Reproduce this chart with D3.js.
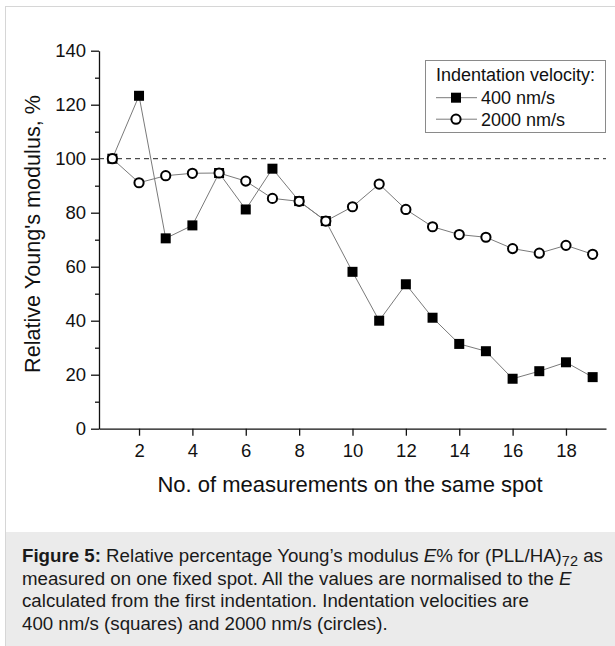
<!DOCTYPE html>
<html>
<head>
<meta charset="utf-8">
<script src="https://cdn.jsdelivr.net/npm/d3@7"></script>
<style>
  html, body { margin: 0; padding: 0; background: #fff; }
  svg { display: block; font-family: "Liberation Sans", Arial, Helvetica, sans-serif; }
</style>
</head>
<body>
<svg id="chart" width="615" height="646"></svg>
<script>
// Measurement index on the same spot
const measurements = [1, 2, 3, 4, 5, 6, 7, 8, 9, 10, 11, 12, 13, 14, 15, 16, 17, 18, 19];
// Relative Young's modulus (%) at 400 nm/s (squares)
const slowValues = [100, 123.3, 70.5, 75.3, 94.7, 81.2, 96.3, 84.3, 76.9, 58.1, 40, 53.5, 41.1, 31.4, 28.7, 18.5, 21.3, 24.6, 19.1];
// Relative Young's modulus (%) at 2000 nm/s (circles)
const fastValues = [100, 91.1, 93.7, 94.6, 94.7, 91.7, 85.3, 84.2, 76.9, 82.2, 90.6, 81.2, 74.8, 71.9, 70.9, 66.7, 65, 67.9, 64.6];
const xTicks = [2, 4, 6, 8, 10, 12, 14, 16, 18];
const yTicks = [0, 20, 40, 60, 80, 100, 120, 140];
const yMinorTicks = [10, 30, 50, 70, 90, 110, 130];
const referenceLevel = 100;
const legendTitle = "Indentation velocity:";
const seriesNames = ["400 nm/s", "2000 nm/s"];

const svg = d3.select("#chart");

// page frame and caption panel
svg.append("rect").attr("x", 6).attr("y", 532).attr("width", 609).attr("height", 114).attr("fill", "#ebebeb");
svg.append("line").attr("x1", 5.5).attr("x2", 5.5).attr("y1", 6).attr("y2", 646).attr("stroke", "#d6d6d6");
svg.append("line").attr("x1", 5).attr("x2", 615).attr("y1", 6.5).attr("y2", 6.5).attr("stroke", "#d6d6d6");

const x = d3.scaleLinear().domain([0.5, 19.5]).range([99, 606]);
const y = d3.scaleLinear().domain([0, 140]).range([428.7, 50.7]);

// axes
svg.append("g").attr("transform", "translate(99,0)")
  .call(d3.axisLeft(y).tickValues(yTicks).tickSize(8).tickSizeOuter(0).tickPadding(5));
svg.append("g").attr("transform", "translate(99,0)")
  .call(d3.axisLeft(y).tickValues(yMinorTicks).tickSize(4).tickSizeOuter(0).tickFormat(""))
  .select(".domain").remove();
svg.append("g").attr("transform", "translate(0,428.7)")
  .call(d3.axisBottom(x).tickValues(xTicks).tickSize(7).tickSizeOuter(0).tickPadding(8));

svg.selectAll(".tick text").attr("font-size", 18.5).attr("fill", "#111")
  .attr("font-family", "'Liberation Sans', Arial, sans-serif");
svg.selectAll(".domain, .tick line").attr("stroke", "#111").attr("stroke-width", 1.3);

// axis titles
svg.append("text").attr("x", 350).attr("y", 492).attr("text-anchor", "middle")
  .attr("font-size", 22).attr("fill", "#111").text("No. of measurements on the same spot");
svg.append("text").attr("transform", "translate(40,234) rotate(-90)").attr("text-anchor", "middle")
  .attr("font-size", 21.6).attr("fill", "#111").text("Relative Young's modulus, %");

// reference level
svg.append("line").attr("x1", x(0.5)).attr("x2", x(19.5)).attr("y1", y(referenceLevel)).attr("y2", y(referenceLevel))
  .attr("stroke", "#222").attr("stroke-width", 1).attr("stroke-dasharray", "5,4");

const line = d3.line().x(d => x(d[0])).y(d => y(d[1]));
const slow = measurements.map((m, i) => [m, slowValues[i]]);
const fast = measurements.map((m, i) => [m, fastValues[i]]);

svg.append("path").datum(slow).attr("d", line).attr("fill", "none").attr("stroke", "#7a7a7a").attr("stroke-width", 1);
svg.append("path").datum(fast).attr("d", line).attr("fill", "none").attr("stroke", "#7a7a7a").attr("stroke-width", 1);

const sq = 10;
svg.append("g").selectAll("rect").data(slow).join("rect")
  .attr("x", d => x(d[0]) - sq / 2).attr("y", d => y(d[1]) - sq / 2)
  .attr("width", sq).attr("height", sq).attr("fill", "#000");
svg.append("g").selectAll("circle").data(fast).join("circle")
  .attr("cx", d => x(d[0])).attr("cy", d => y(d[1])).attr("r", 4.6)
  .attr("fill", "#fff").attr("stroke", "#000").attr("stroke-width", 2);

// legend
const lg = svg.append("g");
lg.append("rect").attr("x", 425.5).attr("y", 60.5).attr("width", 180).attr("height", 72)
  .attr("fill", "#fff").attr("stroke", "#8a8a8a").attr("stroke-width", 1);
lg.append("text").attr("x", 436).attr("y", 81).attr("font-size", 18).attr("fill", "#111").text(legendTitle);
const rows = [104, 125.5];
rows.forEach((by, i) => {
  const cy = by - 6.3;
  lg.append("line").attr("x1", 436).attr("x2", 477).attr("y1", cy).attr("y2", cy).attr("stroke", "#7a7a7a");
  if (i === 0) {
    lg.append("rect").attr("x", 456 - sq / 2).attr("y", cy - sq / 2).attr("width", sq).attr("height", sq).attr("fill", "#000");
  } else {
    lg.append("circle").attr("cx", 456).attr("cy", cy).attr("r", 4.6).attr("fill", "#fff").attr("stroke", "#000").attr("stroke-width", 2);
  }
  lg.append("text").attr("x", 481).attr("y", by).attr("font-size", 18).attr("fill", "#111").text(seriesNames[i]);
});

// caption
const cap = svg.append("g").attr("font-size", 18.7).attr("fill", "#1a1a1a");
const l1 = cap.append("text").attr("x", 22).attr("y", 562);
l1.append("tspan").attr("font-weight", "bold").text("Figure 5:");
l1.append("tspan").text(" Relative percentage Young\u2019s modulus ");
l1.append("tspan").attr("font-style", "italic").text("E");
l1.append("tspan").text("% for (PLL/HA)");
l1.append("tspan").attr("font-size", 14.5).attr("dy", 4).text("72");
l1.append("tspan").attr("dy", -4).text(" as");
const l2 = cap.append("text").attr("x", 22).attr("y", 584.5);
l2.append("tspan").text("measured on one fixed spot. All the values are normalised to the ");
l2.append("tspan").attr("font-style", "italic").text("E");
cap.append("text").attr("x", 22).attr("y", 607.3).text("calculated from the first indentation. Indentation velocities are");
cap.append("text").attr("x", 22).attr("y", 630).text("400 nm/s (squares) and 2000 nm/s (circles).");
</script>
</body>
</html>
